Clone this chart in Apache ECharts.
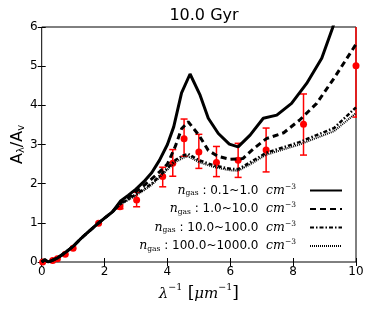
<!DOCTYPE html>
<html><head><meta charset="utf-8">
<script src="https://cdn.jsdelivr.net/npm/echarts@6/dist/echarts.min.js"></script>
<style>html,body{margin:0;padding:0;background:#fff}#c{width:374px;height:312px}</style>
</head><body><div id="c"></div>
<script>
const xTicks = [0, 2, 4, 6, 8, 10];
const yTicks = [0, 1, 2, 3, 4, 5, 6];
const legendNames = ['0.1~1.0', '1.0~10.0', '10.0~100.0', '100.0~1000.0'];

const solidX = [0,0.1,0.15,0.2,0.3,0.5,0.75,1.0,1.25,1.5,1.8,2.0,2.25,2.5,2.75,3.0,3.25,3.5,3.75,4.0,4.2,4.45,4.72,5.04,5.3,5.62,5.97,6.25,6.63,7.05,7.48,7.95,8.43,8.91,9.26,9.5];
const solidY = [0,0.06,0.01,0,0.03,0.1,0.24,0.4,0.6,0.78,0.99,1.12,1.28,1.55,1.7,1.86,2.05,2.28,2.6,3.0,3.45,4.32,4.8,4.26,3.67,3.28,3.01,2.94,3.24,3.67,3.75,4.05,4.56,5.2,5.99,6.6];

const dashX = [0,0.1,0.15,0.2,0.3,0.5,0.75,1.0,1.25,1.5,1.8,2.0,2.25,2.5,2.75,3.0,3.25,3.5,3.75,4.0,4.25,4.45,4.66,5.0,5.3,5.6,6.0,6.4,6.75,7.15,7.7,8.2,8.75,9.3,10.0];
const dashY = [0,0.06,0.01,0,0.03,0.1,0.24,0.4,0.6,0.78,0.99,1.12,1.28,1.5,1.64,1.8,1.95,2.12,2.3,2.5,2.95,3.4,3.58,3.24,2.85,2.7,2.62,2.64,2.9,3.15,3.3,3.62,4.05,4.69,5.56];

const dashDotX = [0,0.1,0.15,0.2,0.3,0.5,0.75,1.0,1.25,1.5,1.8,2.0,2.25,2.5,2.75,3.0,3.25,3.5,3.75,4.0,4.25,4.5,4.66,5.0,5.5,6.0,6.25,6.6,7.15,8.2,9.3,10.0];
const dashDotY = [0,0.06,0.01,0,0.03,0.1,0.24,0.4,0.6,0.78,0.99,1.12,1.28,1.48,1.6,1.73,1.86,2.0,2.2,2.4,2.6,2.72,2.76,2.6,2.46,2.38,2.37,2.53,2.79,3.06,3.42,3.95];

const dotX = [0,0.1,0.15,0.2,0.3,0.5,0.75,1.0,1.25,1.5,1.8,2.0,2.25,2.5,2.75,3.0,3.25,3.5,3.75,4.0,4.25,4.5,4.66,5.0,5.5,6.0,6.25,6.6,7.15,8.2,9.3,10.0];
const dotY = [0,0.06,0.01,0,0.03,0.1,0.24,0.4,0.6,0.78,0.99,1.12,1.28,1.47,1.58,1.7,1.83,1.97,2.16,2.36,2.55,2.66,2.7,2.55,2.42,2.34,2.33,2.48,2.74,3.0,3.34,3.8];

const obsX = [0.03,0.35,0.5,0.75,1.0,1.81,2.49,3.02,3.85,4.17,4.53,5.0,5.56,6.25,7.14,8.33,10.0];
const obsY = [0.0,0.04,0.08,0.2,0.35,0.99,1.41,1.58,2.18,2.52,3.15,2.81,2.54,2.6,2.86,3.52,5.01];
const obsLo = [0.0,0.04,0.08,0.2,0.35,0.99,1.36,1.41,1.92,2.19,2.7,2.39,2.18,2.16,2.3,2.73,3.7];
const obsHi = [0.0,0.04,0.08,0.2,0.35,0.99,1.46,1.78,2.42,2.87,3.65,3.26,2.95,3.03,3.42,4.29,6.3];

const zip = (a, b) => a.map((v, i) => [v, b[i]]);
const serif = 'DejaVu Serif';
const sans = 'DejaVu Sans';

const chart = echarts.init(document.getElementById('c'), null, {renderer: 'canvas'});

function legendFmt(name) {
  return '{n|n}{s|gas}{t| : ' + name + '  }{n|cm}{p|−3}';
}

const lineBase = {type: 'line', symbol: 'none', smooth: false, silent: true, animation: false, clip: true,
  itemStyle: {color: 'rgba(0,0,0,0)', opacity: 0}};

chart.setOption({
  animation: false,
  title: {text: '10.0 Gyr', left: 199, top: 3, textAlign: 'center',
    textStyle: {fontFamily: sans, fontSize: 16, fontWeight: 'normal', color: '#000'}},
  grid: {left: 41.7, right: 18, top: 27, bottom: 50, show: true, borderColor: '#000', borderWidth: 1,
    outerBoundsMode: 'none', containLabel: false},
  xAxis: [{
    type: 'value', min: 0, max: 10, interval: 2,
    axisLine: {show: false}, splitLine: {show: false},
    axisTick: {inside: true, length: 4, lineStyle: {color: '#000'}},
    axisLabel: {fontFamily: sans, fontSize: 12, color: '#000', margin: 4},
    name: '{l|λ}{p|−1}{b| [}{l|μm}{p|−1}{b|]}', nameLocation: 'middle', nameGap: 17,
    nameTextStyle: {rich: {
      l: {fontFamily: serif, fontStyle: 'italic', fontSize: 15, color: '#000', lineHeight: 22, verticalAlign: 'middle'},
      p: {fontFamily: serif, fontSize: 9.5, color: '#000', lineHeight: 12, verticalAlign: 'top'},
      b: {fontFamily: serif, fontSize: 17, color: '#000', lineHeight: 22, verticalAlign: 'middle'}
    }}
  }, {
    type: 'value', min: 0, max: 10, interval: 2, position: 'top',
    axisLine: {show: false}, splitLine: {show: false}, axisLabel: {show: false},
    axisTick: {inside: true, length: 4, lineStyle: {color: '#000'}}
  }],
  yAxis: [{
    type: 'value', min: 0, max: 6, interval: 1,
    axisLine: {show: false}, splitLine: {show: false},
    axisTick: {inside: true, length: 4, lineStyle: {color: '#000'}},
    axisLabel: {fontFamily: sans, fontSize: 12, color: '#000', margin: 4},
    name: '{a|A}{s|λ}{a|/A}{s|v}', nameLocation: 'middle', nameGap: 15, nameRotate: 90,
    nameMoveOverlap: false,
    nameTextStyle: {rich: {
      a: {fontFamily: sans, fontSize: 16, color: '#000'},
      s: {fontFamily: sans, fontSize: 10, color: '#000', padding: [8, 0, 0, 0]}
    }}
  }, {
    type: 'value', min: 0, max: 6, interval: 1, position: 'right',
    axisLine: {show: false}, splitLine: {show: false}, axisLabel: {show: false},
    axisTick: {inside: true, length: 4, lineStyle: {color: '#000'}}
  }],
  legend: {
    orient: 'vertical', right: 31, top: 183, align: 'right', itemGap: 4, padding: 0,
    itemWidth: 32, itemHeight: 14, selectedMode: false,
    itemStyle: {opacity: 0},
    data: legendNames,
    formatter: legendFmt,
    textStyle: {rich: {
      n: {fontFamily: serif, fontStyle: 'italic', fontSize: 12.5, color: '#000'},
      s: {fontFamily: serif, fontSize: 7.5, color: '#000', padding: [6, 0, 0, 0]},
      t: {fontFamily: sans, fontSize: 12, color: '#000'},
      p: {fontFamily: serif, fontSize: 7.5, color: '#000', padding: [0, 9, 7, 0]}
    }}
  },
  series: [
    Object.assign({}, lineBase, {name: legendNames[0], data: zip(solidX, solidY),
      lineStyle: {color: '#000', width: 3, type: 'solid'}}),
    Object.assign({}, lineBase, {name: legendNames[1], data: zip(dashX, dashY),
      lineStyle: {color: '#000', width: 3, type: [6, 4]}}),
    Object.assign({}, lineBase, {name: legendNames[2], data: zip(dashDotX, dashDotY),
      lineStyle: {color: '#000', width: 2.5, type: [4, 2, 1.5, 2]}}),
    Object.assign({}, lineBase, {name: legendNames[3], data: zip(dotX, dotY),
      lineStyle: {color: '#000', width: 2, type: [1, 1]}}),
    {
      type: 'custom', silent: true, animation: false, clip: true,
      data: obsX.map((x, i) => [x, obsLo[i], obsHi[i]]),
      renderItem: function (params, api) {
        const x = api.value(0), lo = api.value(1), hi = api.value(2);
        if (hi - lo < 0.05) return null;
        const p1 = api.coord([x, lo]), p2 = api.coord([x, hi]);
        const st = {stroke: '#f00', lineWidth: 1.5};
        const cw = 3.5;
        return {type: 'group', children: [
          {type: 'line', shape: {x1: p1[0], y1: p1[1], x2: p2[0], y2: p2[1]}, style: st},
          {type: 'line', shape: {x1: p1[0]-cw, y1: p1[1], x2: p1[0]+cw, y2: p1[1]}, style: st},
          {type: 'line', shape: {x1: p2[0]-cw, y1: p2[1], x2: p2[0]+cw, y2: p2[1]}, style: st}
        ]};
      },
      encode: {x: 0, y: [1, 2]}
    },
    {
      type: 'scatter', silent: true, animation: false, clip: false,
      data: zip(obsX, obsY), symbolSize: 7, itemStyle: {color: '#f00', opacity: 1}
    }
  ]
});
</script></body></html>
